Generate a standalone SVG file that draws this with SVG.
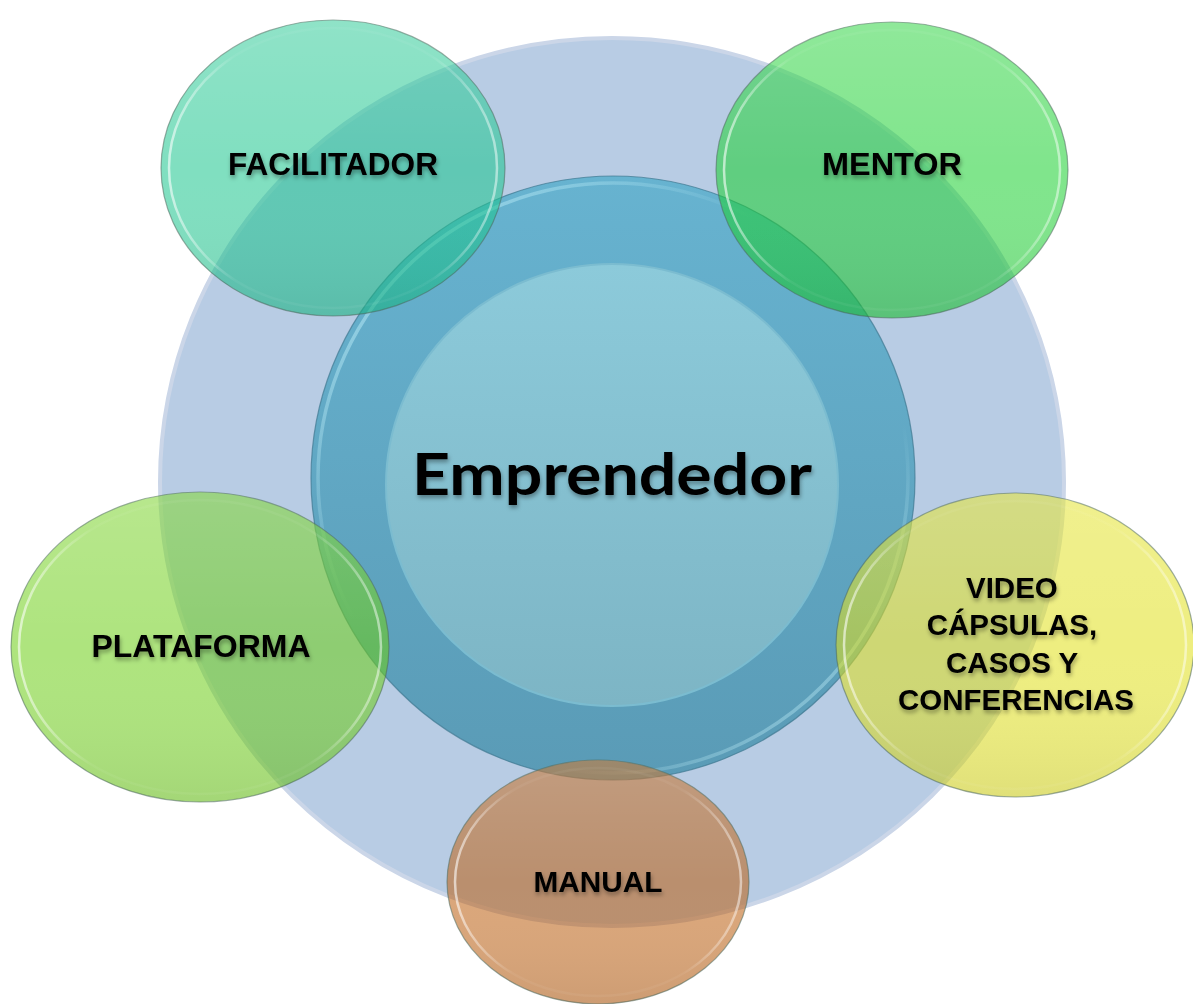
<svg xmlns="http://www.w3.org/2000/svg" width="1193" height="1004" viewBox="0 0 1193 1004">
<defs>
<linearGradient id="ringG" x1="0" y1="0" x2="0" y2="1">
<stop offset="0" stop-color="#67b3d0"/><stop offset="1" stop-color="#5a9bb6"/>
</linearGradient>
<linearGradient id="innerG" x1="0" y1="0" x2="0" y2="1">
<stop offset="0" stop-color="#8ccada"/><stop offset="1" stop-color="#7db5c5"/>
</linearGradient>
<linearGradient id="rimG" x1="0" y1="0" x2="1" y2="1">
<stop offset="0" stop-color="#c8f6ff" stop-opacity="0.7"/><stop offset="0.4" stop-color="#c8f6ff" stop-opacity="0"/><stop offset="0.7" stop-color="#c8f6ff" stop-opacity="0"/><stop offset="1" stop-color="#c8f6ff" stop-opacity="0.7"/>
</linearGradient>
<linearGradient id="shade" x1="0" y1="0" x2="0" y2="1">
<stop offset="0" stop-color="#ffffff" stop-opacity="0.12"/><stop offset="0.5" stop-color="#ffffff" stop-opacity="0"/><stop offset="1" stop-color="#000000" stop-opacity="0.06"/>
</linearGradient>
<linearGradient id="satRim" x1="0" y1="0" x2="1" y2="0">
<stop offset="0" stop-color="#ffffff" stop-opacity="0.6"/><stop offset="0.2" stop-color="#ffffff" stop-opacity="0.05"/><stop offset="0.8" stop-color="#ffffff" stop-opacity="0.05"/><stop offset="1" stop-color="#ffffff" stop-opacity="0.5"/>
</linearGradient>
<filter id="ts" x="-10%" y="-30%" width="120%" height="170%">
<feDropShadow dx="1" dy="3" stdDeviation="2" flood-color="#000" flood-opacity="0.35"/>
</filter>
</defs>
<style>
.lbl{font-family:"Liberation Sans",Arial,sans-serif;font-weight:bold;font-size:31px;fill:#000;text-anchor:middle;filter:url(#ts)}
.sat{stroke:#4d6a5c;stroke-opacity:0.55;stroke-width:1.2}
.rim{fill:none;stroke:url(#satRim);stroke-width:2.5}
.ov{fill:url(#shade)}
</style>
<rect width="1193" height="1004" fill="#ffffff"/>
<g id="background">
<ellipse cx="612" cy="482" rx="452" ry="444" fill="#b8cce4" stroke="#cbd6e8" stroke-width="4"/>
</g>
<g id="center">
<circle cx="613" cy="478" r="302" fill="url(#ringG)" stroke="#3f7890" stroke-opacity="0.7" stroke-width="1.2"/>
<circle cx="613" cy="478" r="295" fill="none" stroke="url(#rimG)" stroke-width="3.5"/>
<ellipse cx="612" cy="485" rx="226" ry="221" fill="url(#innerG)" stroke="#7bbcd0" stroke-width="2"/>
<text x="612" y="495" font-family="Lato,'Noto Sans',sans-serif" font-weight="bold" font-size="58" textLength="400" lengthAdjust="spacingAndGlyphs" text-anchor="middle" fill="#000" filter="url(#ts)">Emprendedor</text>
</g>
<g id="connectors"/>
<g id="facilitador">
<ellipse class="sat" cx="333" cy="168" rx="172" ry="148" fill="#18c58c" fill-opacity="0.55"/>
<ellipse class="ov" cx="333" cy="168" rx="172" ry="148"/>
<ellipse class="rim" cx="333" cy="168" rx="164" ry="140"/>
<text class="lbl" x="333" y="175" textLength="210" lengthAdjust="spacingAndGlyphs">FACILITADOR</text>
</g>
<g id="mentor">
<ellipse class="sat" cx="892" cy="170" rx="176" ry="148" fill="#18cf2e" fill-opacity="0.55"/>
<ellipse class="ov" cx="892" cy="170" rx="176" ry="148"/>
<ellipse class="rim" cx="892" cy="170" rx="168" ry="140"/>
<text class="lbl" x="892" y="175" textLength="140" lengthAdjust="spacingAndGlyphs">MENTOR</text>
</g>
<g id="plataforma">
<ellipse class="sat" cx="200" cy="647" rx="189" ry="155" fill="#6cce14" fill-opacity="0.55"/>
<ellipse class="ov" cx="200" cy="647" rx="189" ry="155"/>
<ellipse class="rim" cx="200" cy="647" rx="181" ry="147"/>
<text class="lbl" x="201" y="657" textLength="219" lengthAdjust="spacingAndGlyphs">PLATAFORMA</text>
</g>
<g id="video">
<ellipse class="sat" cx="1015" cy="645" rx="179" ry="152" fill="#e0e018" fill-opacity="0.55"/>
<ellipse class="ov" cx="1015" cy="645" rx="179" ry="152"/>
<ellipse class="rim" cx="1015" cy="645" rx="171" ry="144"/>
<text class="lbl" x="1016" style="font-size:29.5px">
<tspan x="1016" y="598">VIDEO</tspan>
<tspan x="1016" y="635">CÁPSULAS,</tspan>
<tspan x="1016" y="673">CASOS Y</tspan>
<tspan x="1016" y="710">CONFERENCIAS</tspan>
</text>
</g>
<g id="manual">
<ellipse class="sat" cx="598" cy="882" rx="151" ry="122" fill="#bc5d0d" fill-opacity="0.55"/>
<ellipse class="ov" cx="598" cy="882" rx="151" ry="122"/>
<ellipse class="rim" cx="598" cy="882" rx="143" ry="114"/>
<text class="lbl" x="598" y="892" style="font-size:30px" textLength="129" lengthAdjust="spacingAndGlyphs">MANUAL</text>
</g>
</svg>
